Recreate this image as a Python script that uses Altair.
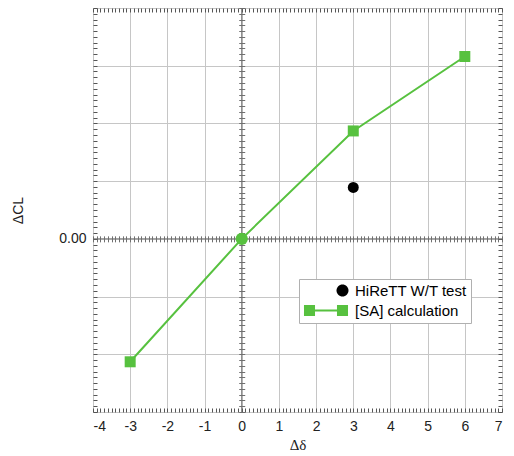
import altair as alt
import pandas as pd

# ---- data ----
calc_x = [-3, 0, 3, 6]
calc_y = [-0.213, 0.0, 0.187, 0.316]
test_x = [3]
test_y = [0.089]
origin_x = [0]
origin_y = [0.0]
series_names = ["HiReTT W/T test", "[SA] calculation"]
x_ticks = [-4, -3, -2, -1, 0, 1, 2, 3, 4, 5, 6, 7]
y_grid = [-0.3, -0.2, -0.1, 0.0, 0.1, 0.2, 0.3, 0.4]

# ---- style ----
W, H = 409, 404
X_DOM = [-4, 7]
Y_DOM = [-0.3, 0.4]
GREEN = "#57c13f"
TICK = "#555555"
ZTICK = "#707070"
FONT = "Liberation Sans"

x0 = W * (0 - X_DOM[0]) / (X_DOM[1] - X_DOM[0])
y0 = H * (Y_DOM[1] - 0) / (Y_DOM[1] - Y_DOM[0])

calc_df = pd.DataFrame({"x": calc_x, "y": calc_y})
test_df = pd.DataFrame({"x": test_x, "y": test_y})
origin_df = pd.DataFrame({"x": origin_x, "y": origin_y})
legend_df = pd.DataFrame({"series": series_names,
                          "x": [test_x[0], calc_x[0]],
                          "y": [test_y[0], calc_y[0]]})

xs = alt.Scale(domain=X_DOM, nice=False, zero=False)
ys = alt.Scale(domain=Y_DOM, nice=False, zero=False)


def tick_axis(orient, offset, count, size, color=TICK):
    return alt.Axis(orient=orient, offset=offset, tickCount=count, labels=False,
                    grid=False, domain=False, ticks=True, tickSize=size,
                    tickColor=color, tickWidth=1, title=None)


main_x = alt.Axis(orient="bottom", values=x_ticks, grid=True, gridColor="#c6c6c6",
                  gridWidth=1, ticks=False, domain=False, labelFont=FONT,
                  labelExpr="toString(datum.value)",
                  labelFontSize=14, labelColor="#222", labelPadding=7,
                  title="Δδ", titleFont="Liberation Serif", titleFontSize=15,
                  titleFontWeight="normal", titleColor="#222", titlePadding=4)
main_y = alt.Axis(orient="left", values=y_grid, grid=True, gridColor="#c6c6c6",
                  gridWidth=1, ticks=False, domain=False, format=".2f",
                  labelExpr="abs(datum.value) < 1e-9 ? datum.label : ''",
                  labelFont=FONT, labelFontSize=14, labelColor="#222",
                  labelPadding=7, title="ΔCL", titleFont=FONT, titleFontSize=14,
                  titleFontWeight="normal", titleColor="#222", titlePadding=33)

line = alt.Chart(calc_df).mark_line(color=GREEN, strokeWidth=2).encode(
    x=alt.X("x:Q", scale=xs, axis=main_x),
    y=alt.Y("y:Q", scale=ys, axis=main_y),
)

squares = alt.Chart(calc_df).transform_filter("datum.x != 0").mark_square(
    color=GREEN, size=121, opacity=1).encode(
    x=alt.X("x:Q", scale=xs, axis=tick_axis("top", -H, 110, 4)),
    y=alt.Y("y:Q", scale=ys, axis=tick_axis("right", -W, 70, 4)),
)

test_pt = alt.Chart(test_df).mark_circle(color="black", size=120, opacity=1).encode(
    x=alt.X("x:Q", scale=xs, axis=tick_axis("bottom", -H, 110, 4)),
    y=alt.Y("y:Q", scale=ys, axis=tick_axis("left", -W, 70, 4)),
)

origin_pt = alt.Chart(origin_df).mark_circle(color=GREEN, size=150, opacity=1).encode(
    x=alt.X("x:Q", scale=xs, axis=tick_axis("top", -(y0 + 3), 110, 6, ZTICK)),
    y=alt.Y("y:Q", scale=ys, axis=tick_axis("right", x0 - 3 - W, 70, 6, ZTICK)),
)

zero_v = alt.Chart(origin_df).mark_rule(color="#707070", strokeWidth=1).encode(
    x=alt.X("x:Q", scale=xs, axis=None))
zero_h = alt.Chart(origin_df).mark_rule(color="#707070", strokeWidth=1).encode(
    y=alt.Y("y:Q", scale=ys, axis=None))

circle_path = "M-1,0A1,1 0 1,1 1,0A1,1 0 1,1 -1,0Z"
line_path = ("M-0.92,-0.92H0.92V0.92H-0.92Z "
             "M-6.42,-0.92H-4.58V0.92H-6.42Z "
             "M-4.58,-0.17H-0.92V0.17H-4.58Z")

leg = alt.Legend(orient="none", legendX=206, legendY=271, title=None,
                 labelFont=FONT, labelFontSize=15, labelColor="black",
                 symbolSize=144, symbolStrokeWidth=0, symbolOpacity=1,
                 symbolOffset=32, labelOffset=5, padding=4,
                 strokeColor="#b0b0b0", fillColor="white", rowPadding=4)

legend_layer = alt.Chart(legend_df).mark_point(filled=True, opacity=0).encode(
    x=alt.X("x:Q", scale=xs, axis=None),
    y=alt.Y("y:Q", scale=ys, axis=None),
    color=alt.Color("series:N", sort=series_names,
                    scale=alt.Scale(domain=series_names, range=["black", GREEN]),
                    legend=leg),
    shape=alt.Shape("series:N", sort=series_names,
                    scale=alt.Scale(domain=series_names, range=[circle_path, line_path]),
                    legend=leg),
)

chart = alt.layer(
    line, zero_v, zero_h, squares, origin_pt, test_pt, legend_layer
).resolve_axis(x="independent", y="independent").properties(
    width=W, height=H,
    autosize=alt.AutoSizeParams(type="none"),
    padding={"left": 85, "top": 0, "right": 4, "bottom": 42},
).configure_view(stroke=TICK, strokeWidth=1).configure(background="white")

chart.save("out.html", embed_options={"renderer": "svg", "actions": False})
